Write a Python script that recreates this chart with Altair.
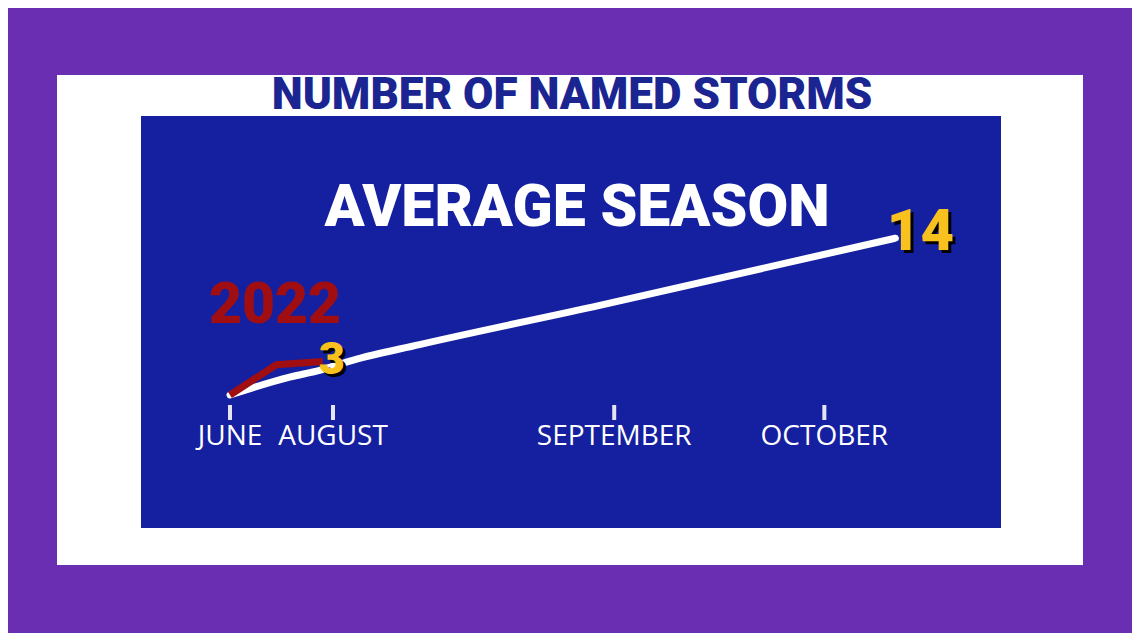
import altair as alt
import pandas as pd

# ---- data read from the graphic ----
month_names = ["JUNE", "AUGUST", "SEPTEMBER", "OCTOBER"]
month_pos = [0.0, 1.0, 3.73, 5.77]          # position along the season axis

avg_pos = [0.0, 0.58, 0.87, 1.19, 1.84, 3.59, 6.46]
avg_count = [0.0, 1.6, 2.2, 3.1, 4.5, 8.0, 14.0]

y2022_pos = [0.0, 0.45, 0.9]
y2022_count = [0.0, 2.7, 3.0]

avg_label = "14"
y2022_label = "3"

PURPLE = "#6A2EB2"
BLUE = "#1520A0"
NAVY = "#1B2592"
YELLOW = "#F9C11E"
RED = "#A00E12"

W, H = 860, 412
heavy = "Roboto"

months = pd.DataFrame({"pos": month_pos, "name": month_names})
avg = pd.DataFrame({"pos": avg_pos, "count": avg_count})
cur = pd.DataFrame({"pos": y2022_pos, "count": y2022_count})
avg_end = pd.DataFrame({"pos": [avg_pos[-1]], "count": [avg_count[-1]], "t": [avg_label]})
cur_end = pd.DataFrame({"pos": [y2022_pos[-1]], "count": [y2022_count[-1]], "t": [y2022_label]})

xs = alt.X("pos:Q", scale=alt.Scale(domain=[-0.864, 7.485], nice=False, zero=False), axis=None)
ys = alt.Y("count:Q", scale=alt.Scale(domain=[-11.875, 24.91], nice=False, zero=False), axis=None)

one = pd.DataFrame({"a": [1]})

white_panel = alt.Chart(one).mark_rect(color="white").encode(
    x=alt.value(-84), x2=alt.value(942), y=alt.value(-41), y2=alt.value(449))
blue_panel = alt.Chart(one).mark_rect(color=BLUE).encode(
    x=alt.value(0), x2=alt.value(W), y=alt.value(0), y2=alt.value(H))

title = alt.Chart(one).mark_text(
    text="NUMBER OF NAMED STORMS", font=heavy, fontWeight=900, fontSize=44,
    color=NAVY, align="center", baseline="middle").encode(x=alt.value(431), y=alt.value(-20))
subtitle = alt.Chart(one).mark_text(
    text="AVERAGE SEASON", font=heavy, fontWeight=900, fontSize=59,
    color="white", align="center", baseline="middle").encode(x=alt.value(436), y=alt.value(92))
yr = alt.Chart(one).mark_text(
    text="2022", font=heavy, fontWeight=900, fontSize=57,
    color=RED, align="center", baseline="middle").encode(x=alt.value(134), y=alt.value(190))

ticks = alt.Chart(months).mark_rule(color="#E4E4F2", strokeWidth=4).encode(
    x=xs, y=alt.value(289), y2=alt.value(304))
mlabels = alt.Chart(months).mark_text(
    font="Open Sans", fontSize=28, color="white", align="center", baseline="middle").encode(
    x=xs, y=alt.value(321), text="name:N")

avg_line = alt.Chart(avg).mark_line(color="white", strokeWidth=7, interpolate="monotone",
                                    strokeCap="round").encode(x=xs, y=ys)
cur_line = alt.Chart(cur).mark_line(color=RED, strokeWidth=7, interpolate="linear",
                                    strokeCap="butt", strokeJoin="miter").encode(x=xs, y=ys)

def big_label(df, size, dx, dy):
    shadow = alt.Chart(df).mark_text(font=heavy, fontWeight=900, fontSize=size, color="black",
                                     align="center", baseline="middle", dx=dx + 3, dy=dy + 3).encode(
        x=xs, y=ys, text="t:N")
    front = alt.Chart(df).mark_text(font=heavy, fontWeight=900, fontSize=size, color=YELLOW,
                                    align="center", baseline="middle", dx=dx, dy=dy).encode(
        x=xs, y=ys, text="t:N")
    return shadow + front

lab14 = big_label(avg_end, 58, 25, -5)
lab3 = big_label(cur_end, 45, 9, -1)

chart = alt.layer(
    white_panel, blue_panel, title, subtitle, yr, ticks, mlabels,
    avg_line, cur_line, lab14, lab3
).properties(
    width=W, height=H,
    padding={"left": 133, "top": 108, "right": 131, "bottom": 105},
    autosize="none", background=PURPLE
).configure_view(stroke=None, fill=None)

chart.save("out.html", embed_options={"renderer": "svg", "actions": False})
